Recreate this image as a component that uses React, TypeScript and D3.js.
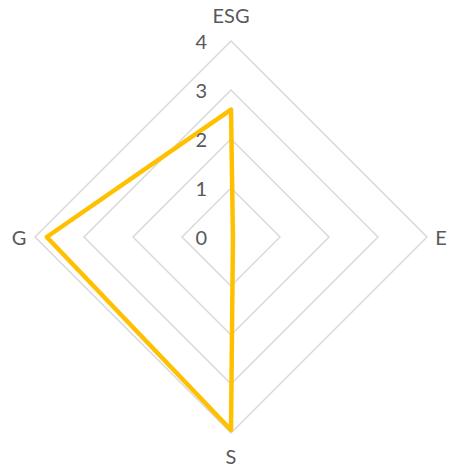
import React from "react";
import * as d3 from "d3";

const categories = ["ESG", "E", "S", "G"];
const values = [2.6, 0.04, 3.94, 3.76];
const tickValues = [0, 1, 2, 3, 4];

export default function App() {
  const W = 449, H = 469;
  const cx = 231, cy = 237, R = 196;
  const r = d3.scaleLinear().domain([0, 4]).range([0, R]);
  const angle = (i: number) => (i * 2 * Math.PI) / categories.length;
  const pt = (i: number, v: number): [number, number] => [
    cx + r(v) * Math.sin(angle(i)),
    cy - r(v) * Math.cos(angle(i)),
  ];
  const line = d3.line<[number, number]>().curve(d3.curveLinearClosed);
  const font = "Lato, 'Open Sans', sans-serif";
  const labelPos = [
    { x: 231, y: 23 },
    { x: 441, y: 245 },
    { x: 231, y: 464 },
    { x: 19, y: 245 },
  ];
  return (
    <svg width={W} height={H} style={{ position: "absolute", left: 0, top: 0, background: "#fff" }}>
      {tickValues.slice(1).map((t) => (
        <path
          key={t}
          d={line(categories.map((_, i) => pt(i, t))) || ""}
          fill="none"
          stroke="#d9d9d9"
          strokeWidth={1.5}
        />
      ))}
      <path
        d={line(values.map((v, i) => pt(i, v))) || ""}
        fill="none"
        stroke="#FFC000"
        strokeWidth={4.5}
        strokeLinejoin="round"
      />
      {tickValues.map((t) => (
        <text
          key={t}
          x={207}
          y={cy - r(t) + 7.5}
          textAnchor="end"
          fontFamily={font}
          fontSize={20}
          fill="#595959"
        >
          {t}
        </text>
      ))}
      {categories.map((c, i) => (
        <text
          key={c}
          x={labelPos[i].x}
          y={labelPos[i].y}
          textAnchor="middle"
          fontFamily={font}
          fontSize={20}
          fill="#595959"
        >
          {c}
        </text>
      ))}
    </svg>
  );
}
